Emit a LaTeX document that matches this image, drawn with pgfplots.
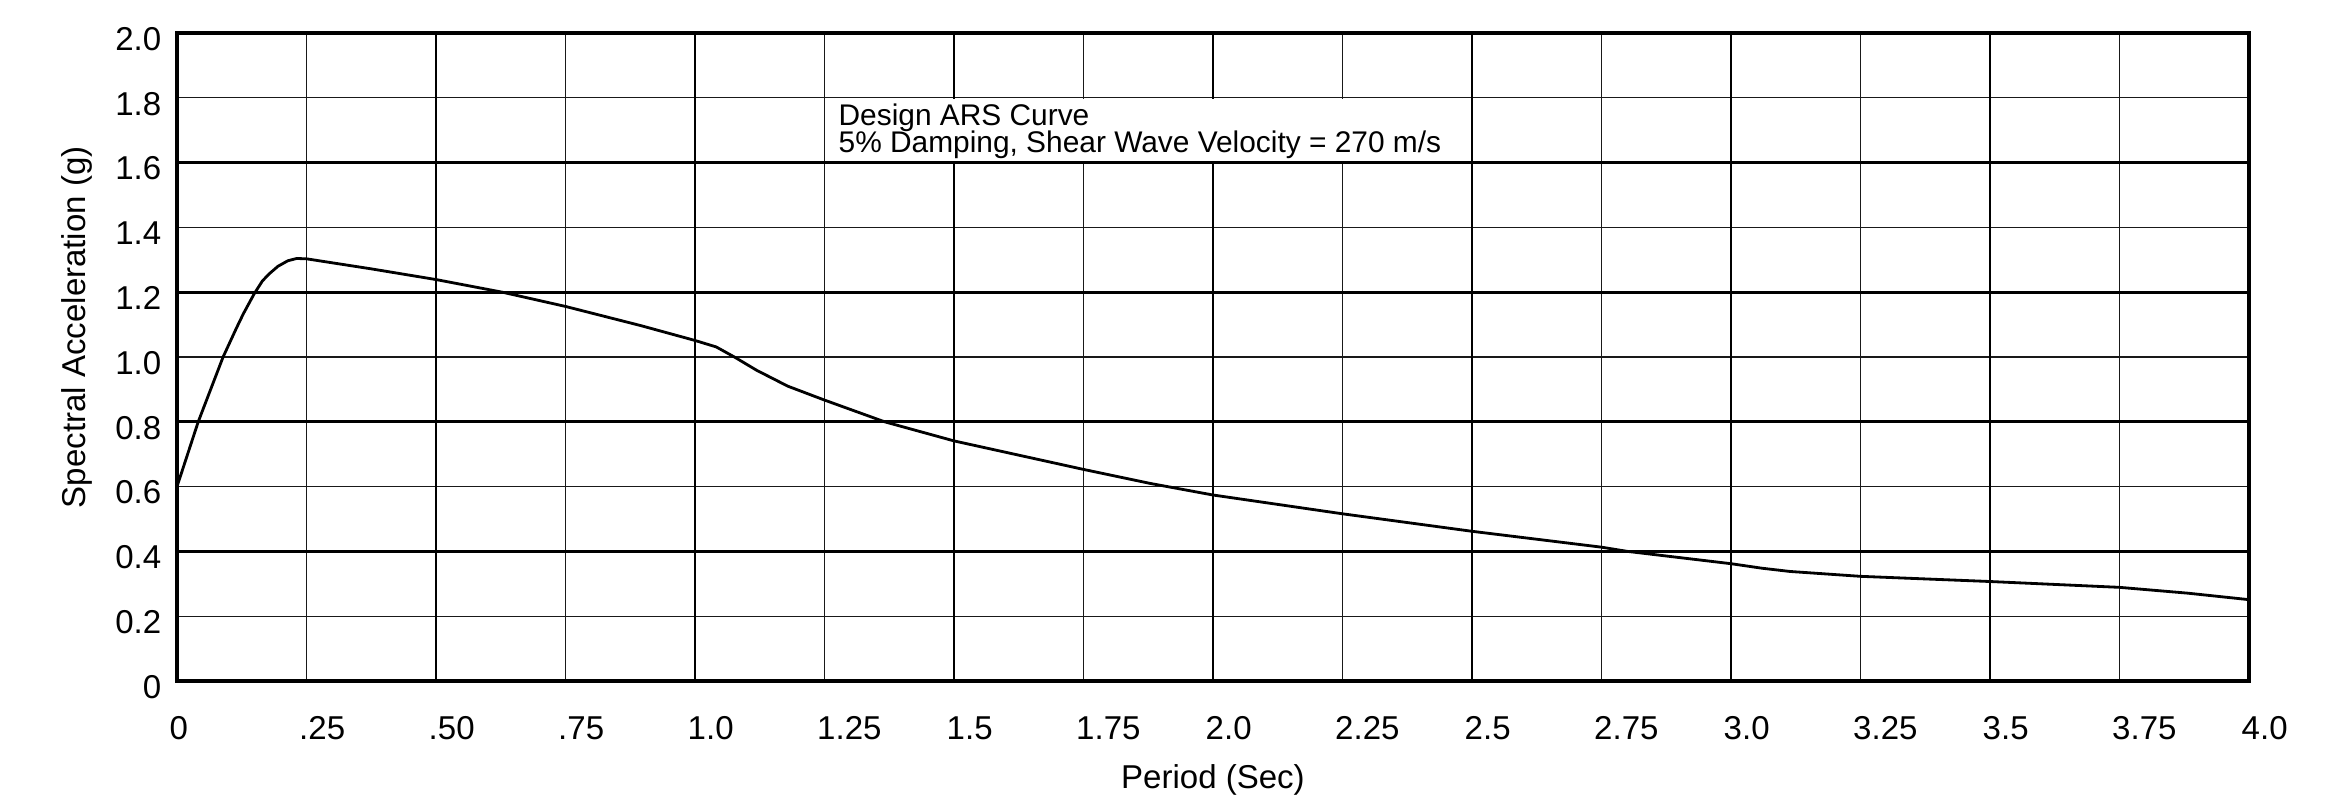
\documentclass[border=0pt]{standalone}
\usepackage{fontspec}
\setmainfont{Liberation Sans}
\usepackage{pgfplots}
\pgfplotsset{compat=1.18}

\begin{document}
\begin{tikzpicture}[font=\fontsize{9.4}{11}\selectfont]
\useasboundingbox (-1.77,-1.14) rectangle (21.54,6.81);
\begin{axis}[
    at={(0,0)}, anchor=south west,
    width=20.72cm, height=6.48cm, scale only axis,
    xmin=0, xmax=4, ymin=0, ymax=2,
    xtick={0,0.25,0.5,0.75,1,1.25,1.5,1.75,2,2.25,2.5,2.75,3,3.25,3.5,3.75,4},
    xticklabels={0,.25,.50,.75,1.0,1.25,1.5,1.75,2.0,2.25,2.5,2.75,3.0,3.25,3.5,3.75,4.0},
    ytick={0,0.2,0.4,0.6,0.8,1,1.2,1.4,1.6,1.8,2},
    yticklabels={0,0.2,0.4,0.6,0.8,1.0,1.2,1.4,1.6,1.8,2.0},
    minor xtick={0.25,0.75,1.25,1.75,2.25,2.75,3.25,3.75},
    minor ytick={0.2,0.6,1.0,1.4,1.8},
    xminorgrids, yminorgrids,
    minor grid style={black!90, line width=0.35pt},
    extra x ticks={0.5,1,1.5,2,2.5,3,3.5},
    extra y ticks={0.4,0.8,1.2,1.6},
    extra x tick labels={}, extra y tick labels={},
    extra tick style={grid=major, major grid style={black, line width=0.75pt}},
    major tick length=0pt, minor tick length=0pt,
    axis line style={line width=0.9pt},
    xticklabel style={anchor=north west, inner sep=0pt, xshift=-0.08cm, yshift=-0.35cm},
    yticklabel style={anchor=east, inner sep=0pt, xshift=-0.15cm, yshift=-0.06cm},
    xlabel={Period (Sec)},
    ylabel={Spectral Acceleration (g)},
    xlabel style={at={(axis description cs:0.5,-0.152)}, anchor=center},
    ylabel style={at={(axis description cs:-0.0483,0.546)}, anchor=center},
    clip=false,
]

% white box behind the caption
\fill[white] ([shift={(0.45pt,0.45pt)}]axis cs:1.25,1.6) rectangle ([shift={(-0.45pt,-0.45pt)}]axis cs:2.5,1.8);
\node[anchor=base west, inner sep=0pt, font=\fontsize{8.5}{8}\selectfont] at (axis cs:1.276,1.716) {Design ARS Curve};
\node[anchor=base west, inner sep=0pt, font=\fontsize{8.5}{8}\selectfont] at (axis cs:1.276,1.63) {5\% Damping, Shear Wave Velocity = 270 m/s};

\addplot[black, line width=0.8pt, line join=round] coordinates {
    (0,0.60) (0.041,0.80) (0.089,1.00) (0.115,1.09) (0.128,1.133) (0.149,1.195)
    (0.165,1.235) (0.179,1.258) (0.195,1.280) (0.214,1.297) (0.231,1.304) (0.25,1.303)
    (0.375,1.272) (0.5,1.239) (0.628,1.20) (0.75,1.156) (0.895,1.097)
    (1.0,1.051) (1.041,1.031) (1.076,1.0) (1.119,0.959) (1.179,0.910)
    (1.25,0.867) (1.366,0.80) (1.5,0.741) (1.75,0.653) (1.878,0.61)
    (2.0,0.574) (2.25,0.516) (2.5,0.462) (2.75,0.413) (2.80,0.40)
    (3.0,0.362) (3.06,0.348) (3.114,0.338) (3.25,0.323) (3.5,0.307) (3.75,0.289)
    (3.882,0.271) (4.0,0.251)
};
\end{axis}
\end{tikzpicture}
\end{document}
